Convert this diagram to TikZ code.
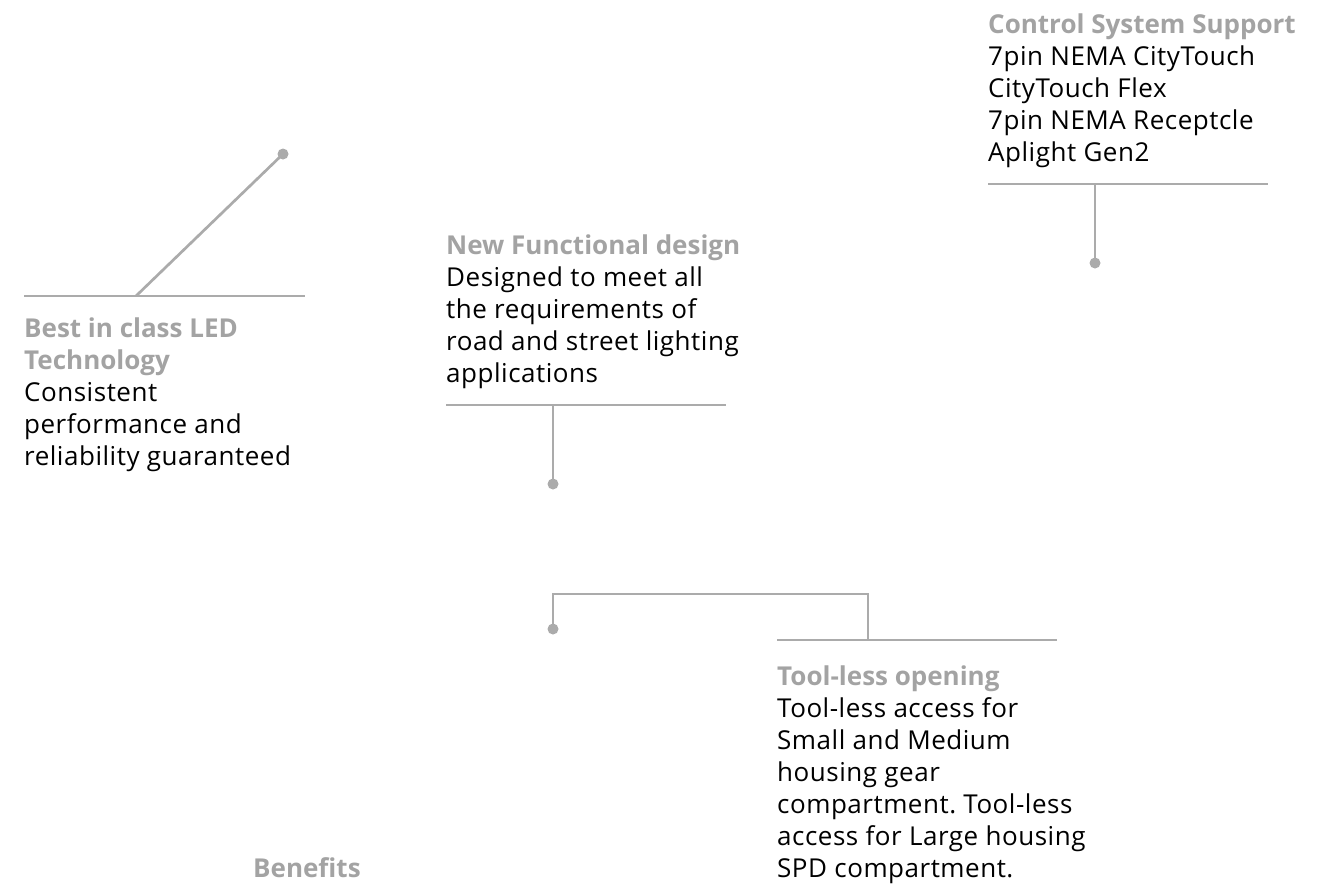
\documentclass[tikz,border=0pt]{standalone}
\usepackage{fontspec}
\setmainfont{Open Sans}
\newfontfamily\bodyfont[LetterSpace=2]{Open Sans}
\usetikzlibrary{positioning}
\definecolor{linegray}{HTML}{ABABAB}
\definecolor{headgray}{HTML}{A3A3A3}
\newcommand{\hd}[1]{{\color{headgray}\normalfont\bfseries #1}}
\frenchspacing

\begin{document}
\begin{tikzpicture}[x = 1pt, y = -1pt, rule/.style={draw = linegray, line width = 2.7pt}, dot/.style={circle, fill = linegray, inner sep = 0pt, minimum size = 11pt}, callout/.style={anchor = north west, inner sep = 0pt, align = left, font = \fontsize{26}{32}\bodyfont}]
  \useasboundingbox (0,0) rectangle (1341,884);

  % texts
  \node [callout] (led) at (24, 315.1) {\strut\hd{Best in class LED}\\\hd{Technology}\\Consistent\\performance and\\reliability guaranteed};
  \node [callout] (design) at (446, 231.6) {\strut\hd{New Functional design}\\Designed to meet all\\the requirements of\\road and street lighting\\applications};
  \node [callout] (control) at (988, 10.6) {\strut\hd{Control System Support}\\7pin NEMA CityTouch\\CityTouch Flex\\7pin NEMA Receptcle\\Aplight Gen2};
  \node [callout] (toolless) at (777, 662.6) {\strut\hd{Tool-less opening}\\Tool-less access for\\Small and Medium\\housing gear\\compartment. Tool-less\\access for Large housing\\SPD compartment.};
  \node [callout] (benefits) at (253, 854.6) {\strut\hd{Benefits}};

  % rules and dots
  \coordinate (ledL) at (24, 296);
  \coordinate (ledR) at (305, 296);
  \coordinate (ledJ) at (136, 296);
  \node [dot] (ledDot) at (283, 154) {};

  \coordinate (designL) at (446, 405);
  \coordinate (designR) at (726, 405);
  \coordinate (designJ) at (553, 405);
  \node [dot] (designDot) at (553, 484) {};

  \coordinate (controlL) at (988, 184);
  \coordinate (controlR) at (1268, 184);
  \coordinate (controlJ) at (1095, 184);
  \node [dot] (controlDot) at (1095, 263) {};

  \coordinate (toolL) at (777, 640);
  \coordinate (toolR) at (1057, 640);
  \coordinate (toolJ) at (868, 640);
  \coordinate (toolBend) at (868, 594);
  \coordinate (toolTop) at (553, 594);
  \node [dot] (toolDot) at (553, 629) {};

  % edges
  \draw [rule] (ledL) -- (ledR);
  \draw [rule] (ledJ) -- (ledDot.center);

  \draw [rule] (designL) -- (designR);
  \draw [rule] (designJ) -- (designDot.center);

  \draw [rule] (controlL) -- (controlR);
  \draw [rule] (controlJ) -- (controlDot.center);

  \draw [rule] (toolL) -- (toolR);
  \draw [rule] (toolJ) -- (toolBend) -- (toolTop) -- (toolDot.center);
\end{tikzpicture}
\end{document}
